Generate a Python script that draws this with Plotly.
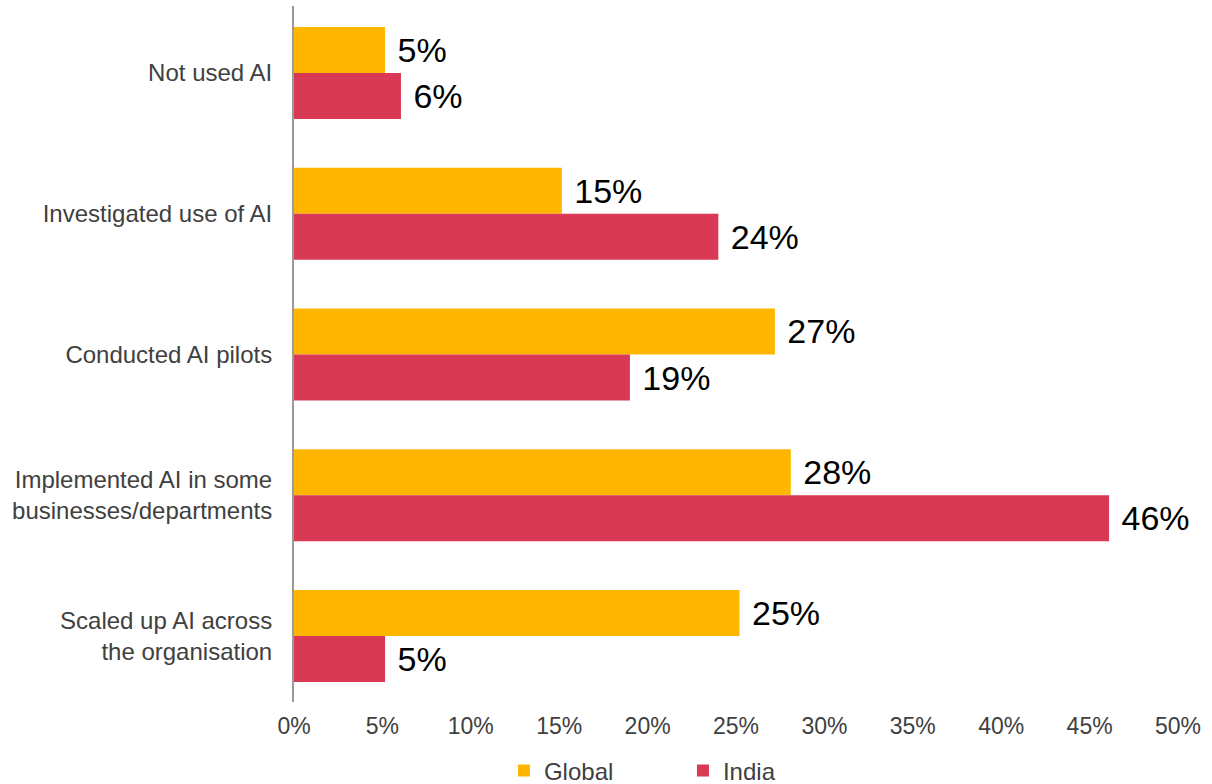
import plotly.graph_objects as go

categories = [
    "Not used AI",
    "Investigated use of AI",
    "Conducted AI pilots",
    "Implemented AI in some<br>businesses/departments",
    "Scaled up AI across<br>the organisation",
]
global_vals = [5.15, 15.15, 27.2, 28.1, 25.2]
india_vals = [6.05, 24.0, 19.0, 46.1, 5.15]
x_ticks = [0, 5, 10, 15, 20, 25, 30, 35, 40, 45, 50]
x_tick_labels = [f"{v}%" for v in x_ticks]

FONT = "Liberation Sans, Arial, Helvetica, sans-serif"
GLOBAL_COLOR = "#FFB600"
INDIA_COLOR = "#D93954"

fig = go.Figure()
for name, vals, color in [("Global", global_vals, GLOBAL_COLOR), ("India", india_vals, INDIA_COLOR)]:
    fig.add_trace(go.Bar(
        name=name,
        y=categories,
        x=vals,
        orientation="h",
        marker=dict(color=color, line=dict(width=0)),
        texttemplate="\u00a0%{x:.0f}%",
        textposition="outside",
        textfont=dict(family=FONT, size=34, color="#000000"),
        cliponaxis=False,
        constraintext="none",
    ))

fig.update_layout(
    width=1212,
    height=784,
    margin=dict(l=294, r=34, t=6, b=82, autoexpand=False),
    paper_bgcolor="white",
    plot_bgcolor="white",
    barmode="group",
    bargap=0.346,
    bargroupgap=0,
    font=dict(family=FONT, size=24, color="#404040"),
    showlegend=True,
    legend=dict(
        orientation="h",
        x=0.2375,
        xanchor="left",
        y=-0.099,
        yanchor="middle",
        font=dict(family=FONT, size=24, color="#404040"),
        entrywidth=134,
        entrywidthmode="pixels",
        traceorder="normal",
    ),
    xaxis=dict(
        range=[0, 50],
        tickvals=x_ticks,
        ticktext=x_tick_labels,
        showgrid=False,
        zeroline=False,
        showline=False,
        ticks="outside",
        ticklen=3,
        tickcolor="rgba(0,0,0,0)",
        automargin=False,
        tickfont=dict(family=FONT, size=23, color="#404040"),
    ),
    yaxis=dict(
        categoryorder="array",
        categoryarray=categories,
        range=[4.469, -0.476],
        showgrid=False,
        zeroline=False,
        showline=True,
        linecolor="#9a9a9a",
        linewidth=2,
        ticks="outside",
        ticklen=15,
        tickcolor="rgba(0,0,0,0)",
        automargin=False,
        tickfont=dict(family=FONT, size=24, color="#404040"),
    ),
)

fig.write_html(
    "out.html",
    config={"displayModeBar": False},
    post_script="document.body.style.margin='0';document.body.style.overflow='hidden';",
)
